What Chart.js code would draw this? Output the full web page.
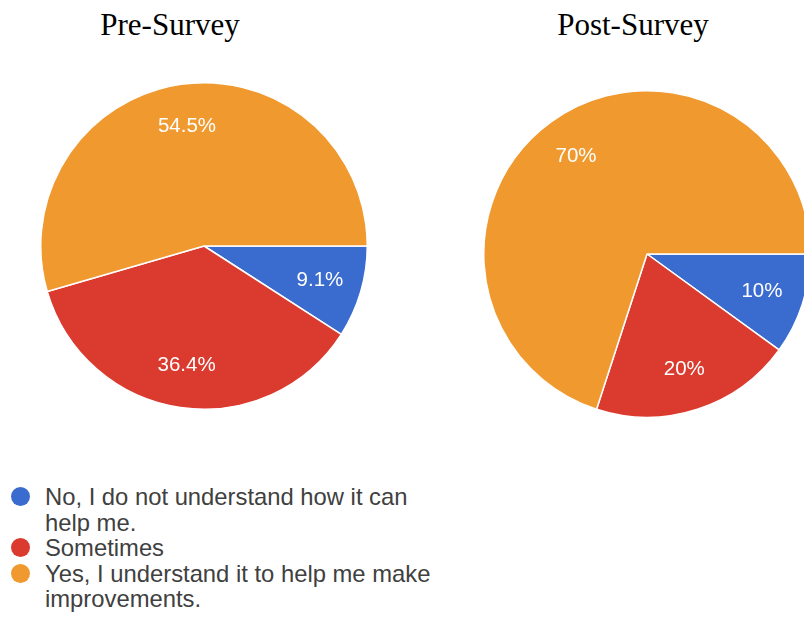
<!DOCTYPE html>
<html>
<head>
<meta charset="utf-8">
<script src="https://cdn.jsdelivr.net/npm/chart.js@4.4.1/dist/chart.umd.min.js"></script>
<style>
    html, body {
        margin: 0;
        padding: 0;
        width: 804px;
        height: 632px;
        overflow: hidden;
        background: #ffffff;
    }
    .survey-title {
        position: absolute;
        width: 240px;
        text-align: center;
        font-family: "Liberation Serif", "Times New Roman", serif;
        font-size: 31px;
        line-height: 31px;
        color: #000;
    }
    .pie-canvas {
        position: absolute;
    }
    #legend {
        position: absolute;
        left: 11px;
        top: 484px;
        margin: 0;
        padding: 0;
        list-style: none;
        font-family: "Liberation Sans", Arial, sans-serif;
        font-size: 23.8px;
        line-height: 25.5px;
        color: #404040;
    }
    #legend li {
        position: relative;
        padding-left: 34px;
        width: 405px;
    }
    #legend .dot {
        position: absolute;
        left: 0;
        top: 3px;
        width: 19px;
        height: 19px;
        border-radius: 50%;
    }
</style>
</head>
<body>

<div class="survey-title" style="left:50px; top:9px;">Pre-Survey</div>
<div class="survey-title" style="left:513px; top:9px;">Post-Survey</div>

<canvas id="pre-chart" class="pie-canvas" width="328" height="328" style="left:40px; top:82px;"></canvas>
<canvas id="post-chart" class="pie-canvas" width="328" height="328" style="left:483px; top:90px;"></canvas>

<ul id="legend"></ul>

<script>
// ── Survey data ─────────────────────────────────────────────────────
const answers = [
    'No, I do not understand how it can help me.',
    'Sometimes',
    'Yes, I understand it to help me make improvements.'
];
const answerColors = ['#3a6bcf', '#db3b2f', '#f0992f'];

const preValues = [9.1, 36.4, 54.5];   // % of responses
const postValues = [10, 20, 70];

// white percentage text inside each slice
const sliceLabels = {
    id: 'sliceLabels',
    afterDatasetsDraw(chart) {
        const { ctx } = chart;
        const meta = chart.getDatasetMeta(0);
        const values = chart.data.datasets[0].data;

        ctx.save();
        ctx.fillStyle = '#ffffff';
        ctx.font = '20.5px "Liberation Sans", Arial, sans-serif';
        ctx.textAlign = 'center';
        ctx.textBaseline = 'middle';

        meta.data.forEach((arc, i) => {
            const { x, y, startAngle, endAngle, outerRadius } = arc.getProps(
                ['x', 'y', 'startAngle', 'endAngle', 'outerRadius'], true);
            const mid = (startAngle + endAngle) / 2;
            const r = outerRadius * 0.74;
            ctx.fillText(values[i] + '%', x + Math.cos(mid) * r, y + Math.sin(mid) * r);
        });
        ctx.restore();
    }
};

function renderPie(canvasId, values) {
    const ctx = document.getElementById(canvasId);

    return new Chart(ctx, {
        type: 'pie',
        data: {
            labels: answers,
            datasets: [{
                data: values,
                backgroundColor: answerColors,
                borderColor: '#ffffff',
                borderWidth: 1.5
            }]
        },
        options: {
            responsive: false,
            animation: false,
            rotation: 90,
            layout: { padding: 0 },
            plugins: {
                legend: { display: false },
                tooltip: { enabled: false }
            }
        },
        plugins: [sliceLabels]
    });
}

function renderLegend(chart) {
    const list = document.getElementById('legend');
    const items = chart.options.plugins.legend.labels.generateLabels(chart);

    list.innerHTML = items.map(item => `<li>
            <span class="dot" style="background:${item.fillStyle};"></span>${item.text}
        </li>`).join('');
}

const preChart = renderPie('pre-chart', preValues);
renderPie('post-chart', postValues);
renderLegend(preChart);
</script>
</body>
</html>
